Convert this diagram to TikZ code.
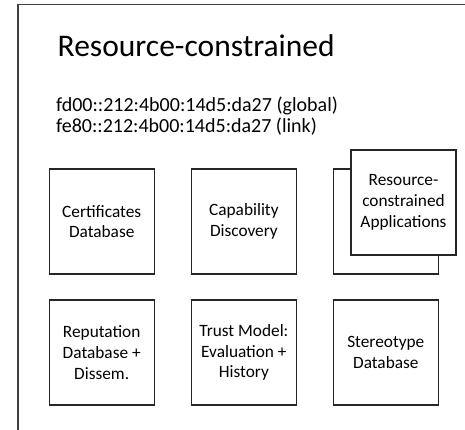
\documentclass[tikz,border=0pt]{standalone}
\usepackage{fontspec}
\setmainfont{Carlito}
\begin{document}
\begin{tikzpicture}[x=1pt,y=-1pt,
  modbox/.style={draw=black!85, line width=1.1pt, fill=white,
    minimum width=105pt, minimum height=105pt, inner sep=0pt,
    align=center, font=\fontsize{17.3}{20.7}\selectfont},
  frame/.style={draw=black!75, line width=1.6pt}]
  \useasboundingbox (0,0) rectangle (465,430);
  % enclosing device frame (continues past the right and bottom edges)
  \draw[frame] (18,430) -- (18,4.5) -- (465,4.5);
  % heading and addresses
  \node[anchor=base west, inner sep=0pt, font=\fontsize{31.5}{36}\selectfont]
    (title) at (57.5,56.5) {Resource-constrained};
  \node[anchor=base west, inner sep=0pt, align=left,
    font=\fontsize{20}{21.5}\selectfont]
    (addr) at (56,133) {fd00::212:4b00:14d5:da27 (global)\\fe80::212:4b00:14d5:da27 (link)};
  % first row of modules
  \node[modbox] (cert) at (101.7,221.5) {Certificates\\Database};
  \node[modbox] (cap) at (243.9,221.5) {Capability\\Discovery};
  \node[modbox] (appsback) at (385.8,221.5) {};
  \node[modbox] (apps) at (403.5,202.5) {Resource-\\constrained\\Applications};
  % second row of modules
  \node[modbox] (rep) at (101.7,352.5) {Reputation\\Database +\\Dissem.};
  \node[modbox] (trust) at (243.9,352.5) {Trust Model:\\Evaluation +\\History};
  \node[modbox] (stereo) at (385.8,352.5) {Stereotype\\Database};
\end{tikzpicture}
\end{document}
